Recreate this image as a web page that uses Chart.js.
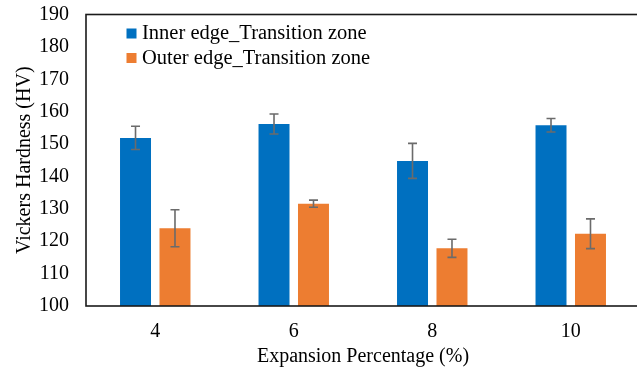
<!DOCTYPE html>
<html>
<head>
<meta charset="utf-8">
<script src="https://cdn.jsdelivr.net/npm/chart.js@4"></script>
<style>
  html, body { margin: 0; padding: 0; background: #fff; overflow: hidden; }
  canvas { display: block; }
</style>
</head>
<body>
<canvas id="chart" width="642" height="371"></canvas>
<script>
// data block
const categories = ['4', '6', '8', '10'];
const innerEdge = [151.9, 156.2, 144.8, 155.8];
const innerErr = [3.6, 3.1, 5.4, 2.1];
const outerEdge = [124.0, 131.6, 117.8, 122.3];
const outerErr = [5.7, 1.1, 2.8, 4.6];
const seriesLabels = ['Inner edge_Transition zone', 'Outer edge_Transition zone'];
const seriesColors = ['#0070C0', '#ED7D31'];
const errors = [innerErr, outerErr];

const FONT = 'Liberation Serif, Times New Roman, serif';

// error bars, box and legend drawn on top of the bars
const extras = {
  id: 'extras',
  afterDatasetsDraw(chart) {
    const ctx = chart.ctx;
    const y = chart.scales.y;
    const area = chart.chartArea;
    ctx.save();

    // error bars
    ctx.strokeStyle = '#6b6b6b';
    ctx.lineWidth = 1.6;
    chart.data.datasets.forEach((ds, i) => {
      const meta = chart.getDatasetMeta(i);
      meta.data.forEach((bar, j) => {
        const v = ds.data[j], e = errors[i][j];
        const top = y.getPixelForValue(v + e);
        const bot = y.getPixelForValue(v - e);
        ctx.beginPath();
        ctx.moveTo(bar.x, top); ctx.lineTo(bar.x, bot);
        ctx.moveTo(bar.x - 4.5, top); ctx.lineTo(bar.x + 4.5, top);
        ctx.moveTo(bar.x - 4.5, bot); ctx.lineTo(bar.x + 4.5, bot);
        ctx.stroke();
      });
    });

    // plot box
    ctx.strokeStyle = '#1a1a1a';
    ctx.lineWidth = 1.6;
    ctx.strokeRect(area.left, area.top, area.right - area.left, area.bottom - area.top);

    // legend
    ctx.font = '20.5px ' + FONT;
    ctx.textBaseline = 'middle';
    ctx.textAlign = 'left';
    chart.data.datasets.forEach((ds, i) => {
      const ly = area.top + 18.5 + i * 24.5;
      ctx.fillStyle = ds.backgroundColor;
      ctx.fillRect(area.left + 40.5, ly - 4.5, 10, 10);
      ctx.fillStyle = '#000';
      ctx.fillText(ds.label, area.left + 56, ly + 1);
    });
    ctx.restore();
  }
};

const data = {
  labels: categories,
  datasets: [
    {
      label: seriesLabels[0],
      data: innerEdge,
      backgroundColor: seriesColors[0],
      categoryPercentage: 0.57,
      barPercentage: 0.785,
    },
    {
      label: seriesLabels[1],
      data: outerEdge,
      backgroundColor: seriesColors[1],
      categoryPercentage: 0.57,
      barPercentage: 0.785,
    },
  ],
};

const config = {
  type: 'bar',
  data,
  options: {
    responsive: false,
    animation: false,
    layout: { padding: { top: 14.5, right: 2, left: 0, bottom: 0 } },
    plugins: {
      legend: { display: false },
      tooltip: { enabled: false },
    },
    scales: {
      x: {
        grid: { display: false, drawTicks: false },
        border: { display: false },
        ticks: { color: '#000', font: { family: FONT, size: 20 }, padding: 14 },
        title: {
          display: true,
          text: 'Expansion Percentage (%)',
          color: '#000',
          font: { family: FONT, size: 20 },
          padding: { top: 0, bottom: 2 },
        },
        afterFit: s => { s.height = 65; s.paddingLeft = 0; s.paddingRight = 0; },
      },
      y: {
        min: 100,
        max: 190,
        grid: { display: false, drawTicks: false },
        border: { display: false },
        ticks: { stepSize: 10, color: '#000', font: { family: FONT, size: 20 }, padding: 17 },
        title: {
          display: true,
          text: 'Vickers Hardness (HV)',
          color: '#000',
          font: { family: FONT, size: 20 },
          padding: { top: 13, bottom: 0 },
        },
        afterFit: s => { s.width = 86; s.paddingTop = 0; s.paddingBottom = 0; },
      },
    },
  },
  plugins: [extras],
};

new Chart(document.getElementById('chart'), config);
</script>
</body>
</html>
